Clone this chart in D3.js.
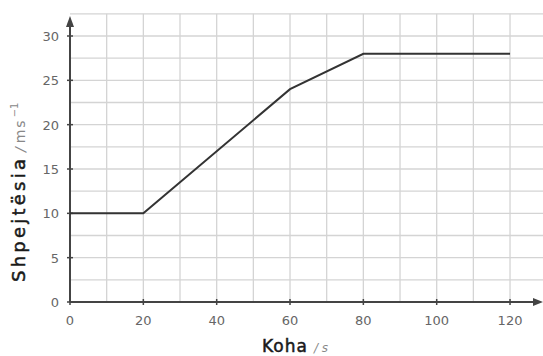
<!DOCTYPE html>
<html>
<head>
<meta charset="utf-8">
<script src="https://cdn.jsdelivr.net/npm/d3@7"></script>
<style>
body { margin: 0; background: #fff; }
text { font-family: "DejaVu Sans", sans-serif; }
</style>
</head>
<body>
<svg id="chart" width="543" height="356"></svg>
<script>
var time = [0, 20, 60, 80, 120];
var speed = [10, 10, 24, 28, 28];
var xTicks = [0, 20, 40, 60, 80, 100, 120];
var yTicks = [0, 5, 10, 15, 20, 25, 30];

var svg = d3.select("#chart");

var x = d3.scaleLinear().domain([0, 130]).range([70, 546.7]);
var y = d3.scaleLinear().domain([0, 30]).range([302, 36]);

var grid = svg.append("g").attr("stroke", "#d4d4d4").attr("stroke-width", 1.3);
grid.selectAll(".vg").data(d3.range(10, 131, 10)).enter().append("line")
    .attr("x1", function (d) { return x(d); }).attr("x2", function (d) { return x(d); })
    .attr("y1", y(0)).attr("y2", y(32.5));
grid.selectAll(".hg").data(d3.range(2.5, 32.6, 2.5)).enter().append("line")
    .attr("x1", x(0)).attr("x2", 543)
    .attr("y1", function (d) { return y(d); }).attr("y2", function (d) { return y(d); });

// axes
svg.append("line").attr("x1", x(0)).attr("x2", 536).attr("y1", y(0)).attr("y2", y(0))
    .attr("stroke", "#444").attr("stroke-width", 2);
svg.append("path").attr("d", "M543," + y(0) + "L533," + (y(0) - 4) + "L533," + (y(0) + 4) + "Z").attr("fill", "#444");
svg.append("line").attr("x1", x(0)).attr("x2", x(0)).attr("y1", y(0)).attr("y2", 24)
    .attr("stroke", "#444").attr("stroke-width", 2);
svg.append("path").attr("d", "M" + x(0) + ",16L" + (x(0) - 4) + ",27L" + (x(0) + 4) + ",27Z").attr("fill", "#444");

// ticks
svg.selectAll(".xt").data(xTicks).enter().append("line")
    .attr("x1", function (d) { return x(d); }).attr("x2", function (d) { return x(d); })
    .attr("y1", y(0) - 3).attr("y2", y(0) + 3).attr("stroke", "#444").attr("stroke-width", 1.5);
svg.selectAll(".yt").data(yTicks).enter().append("line")
    .attr("x1", x(0) - 3).attr("x2", x(0) + 3)
    .attr("y1", function (d) { return y(d); }).attr("y2", function (d) { return y(d); })
    .attr("stroke", "#444").attr("stroke-width", 1.5);

svg.selectAll(".xl").data(xTicks).enter().append("text")
    .attr("x", function (d) { return x(d); }).attr("y", 325)
    .attr("text-anchor", "middle").attr("font-size", 13).attr("fill", "#666")
    .text(function (d) { return d; });
svg.selectAll(".yl").data(yTicks).enter().append("text")
    .attr("x", 59).attr("y", function (d) { return y(d) + 5; })
    .attr("text-anchor", "end").attr("font-size", 13).attr("fill", "#666")
    .text(function (d) { return d; });

// data line
var line = d3.line()
    .x(function (d, i) { return x(time[i]); })
    .y(function (d) { return y(d); });
svg.append("path").datum(speed).attr("d", line)
    .attr("fill", "none").attr("stroke", "#333").attr("stroke-width", 2);

// axis titles
var xt = svg.append("text").attr("x", 262).attr("y", 352).attr("fill", "#1a1a1a");
xt.append("tspan").attr("font-size", 17).attr("stroke", "#1a1a1a").attr("stroke-width", 0.5)
    .attr("letter-spacing", 1).text("Koha");
xt.append("tspan").attr("font-size", 12).attr("fill", "#888").attr("font-style", "italic").attr("dx", 6).text("/ s");

var yg = svg.append("g").attr("transform", "translate(25,282) rotate(-90)");
yg.append("text").attr("x", 0).attr("y", 0).attr("font-size", 18)
    .attr("fill", "#1a1a1a").attr("stroke", "#1a1a1a").attr("stroke-width", 0.5)
    .attr("textLength", 123).attr("lengthAdjust", "spacing").text("Shpejtësia");
var yu = yg.append("text").attr("x", 130).attr("y", 0).attr("fill", "#888").attr("font-size", 14);
yu.append("tspan").attr("font-style", "italic").text("/");
yu.append("tspan").attr("dx", 4).attr("letter-spacing", 2).text("ms");
yu.append("tspan").attr("font-size", 10).attr("dy", -7).attr("dx", 1).text("−1");
</script>
</body>
</html>
